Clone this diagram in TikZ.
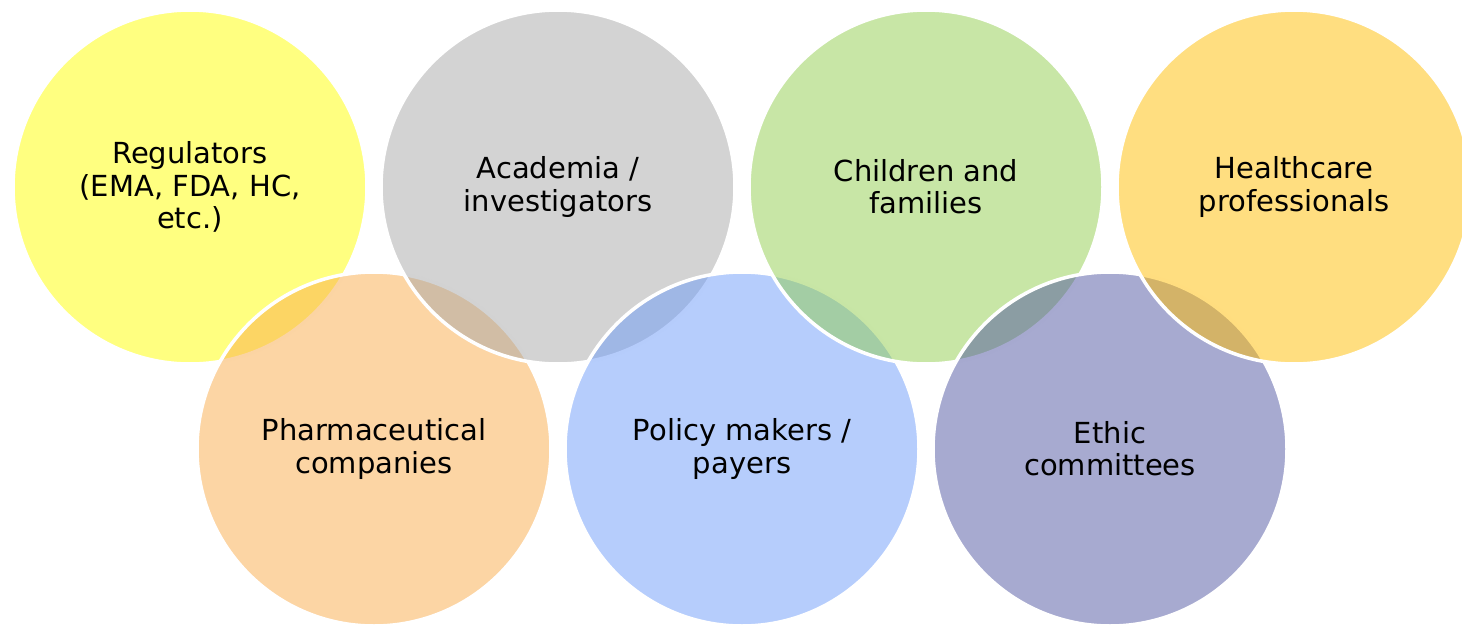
\documentclass[tikz,border=0pt]{standalone}
\usepackage{fontspec}
\setmainfont{DejaVu Sans}
\usepackage{tikz}

\definecolor{regyellow}{RGB}{255,255,1}
\definecolor{pharmorange}{RGB}{249,171,73}
\definecolor{acadgray}{RGB}{167,167,167}
\definecolor{policyblue}{RGB}{109,155,249}
\definecolor{famgreen}{RGB}{145,205,77}
\definecolor{ethicpurple}{RGB}{79,85,161}
\definecolor{hcpgold}{RGB}{255,189,1}

\begin{document}
\begin{tikzpicture}[disc/.style={circle, draw=white, line width=2pt, fill opacity=0.5, text opacity=1, inner sep=0pt, minimum size=7.08cm, align=center, font=\fontsize{16.5}{18.3}\selectfont}]
	\useasboundingbox (0,0) rectangle (29.24,-12.52);
	% drawn left to right, top and bottom rows in turn
	\node[disc, fill=regyellow]   (regulators) at (3.8,-3.74)   {Regulators\\(EMA, FDA, HC,\\etc.)};
	\node[disc, fill=pharmorange] (pharma)     at (7.48,-8.98)  {Pharmaceutical\\companies};
	\node[disc, fill=acadgray]    (academia)   at (11.16,-3.74) {Academia /\\investigators};
	\node[disc, fill=policyblue]  (policy)     at (14.84,-8.98) {Policy makers /\\payers};
	\node[disc, fill=famgreen]    (children)   at (18.52,-3.74) {Children and\\families};
	\node[disc, fill=ethicpurple] (ethic)      at (22.2,-8.98)  {Ethic\\committees};
	\node[disc, fill=hcpgold]     (hcp)        at (25.88,-3.74) {Healthcare\\professionals};
\end{tikzpicture}
\end{document}
